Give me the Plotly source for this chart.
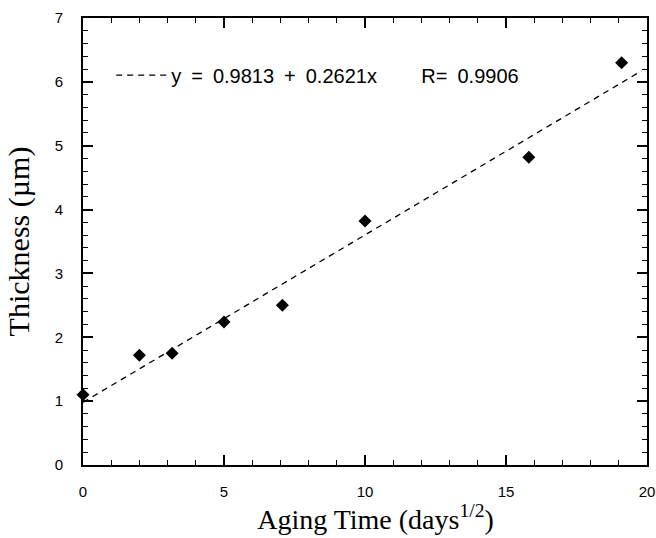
import plotly.graph_objects as go

aging_time = [0, 2, 3.16, 5, 7.07, 10, 15.81, 19.1]
thickness = [1.1, 1.72, 1.75, 2.24, 2.5, 3.82, 4.82, 6.3]
fit_intercept = 0.9813
fit_slope = 0.2621
fit_x = [0, 19.8]
fit_label = ("y\u2002=\u20020.9813\u2002+\u20020.2621x" + "&nbsp;" * 8 + "R=\u20020.9906")
x_ticks = [0, 5, 10, 15, 20]
y_ticks = [0, 1, 2, 3, 4, 5, 6, 7]

fit_y = [fit_intercept + fit_slope * v for v in fit_x]

fig = go.Figure()
fig.add_trace(go.Scatter(
    x=fit_x, y=fit_y, mode="lines", name=fit_label,
    line=dict(color="black", width=1.3, dash="6px,5px"),
    showlegend=True,
))
fig.add_trace(go.Scatter(
    x=aging_time, y=thickness, mode="markers", showlegend=False,
    marker=dict(symbol="diamond", size=10, color="black"),
    cliponaxis=False,
))

axis_common = dict(
    showline=True, linecolor="black", linewidth=2, mirror="allticks",
    ticks="inside", ticklen=10, tickwidth=1.6, tickcolor="black",
    showgrid=False, zeroline=False, automargin=False,
    tickfont=dict(family="Liberation Sans, Arial", size=15, color="black"),
)

fig.update_xaxes(
    range=[0, 20], tickvals=x_ticks,
    minor=dict(dtick=1, ticks="inside", ticklen=5, tickwidth=1.3, tickcolor="black", showgrid=False),
    title=dict(text="&nbsp;&nbsp;&nbsp;Aging Time (days<sup>1/2</sup>)", standoff=4,
               font=dict(family="Liberation Serif, Times New Roman", size=28, color="black")),
    ticklabelstandoff=12,
    **axis_common,
)
fig.update_yaxes(
    range=[0, 7], tickvals=y_ticks,
    minor=dict(dtick=0.2, ticks="inside", ticklen=5, tickwidth=1.3, tickcolor="black", showgrid=False),
    title=dict(text="Thickness (µm)", standoff=16,
               font=dict(family="Liberation Serif, Times New Roman", size=30, color="black")),
    ticklabelstandoff=15,
    **axis_common,
)

fig.update_layout(
    width=656, height=538,
    margin=dict(l=83, r=9, t=18, b=73),
    plot_bgcolor="white", paper_bgcolor="white",
    legend=dict(x=0.05, y=0.872, xanchor="left", yanchor="middle",
                bgcolor="rgba(0,0,0,0)", itemwidth=50,
                font=dict(family="Liberation Sans, Arial", size=20, color="black")),
)

fig.write_html("out.html", config={"displayModeBar": False},
               post_script="document.body.style.margin='0';document.body.style.overflow='hidden';")
